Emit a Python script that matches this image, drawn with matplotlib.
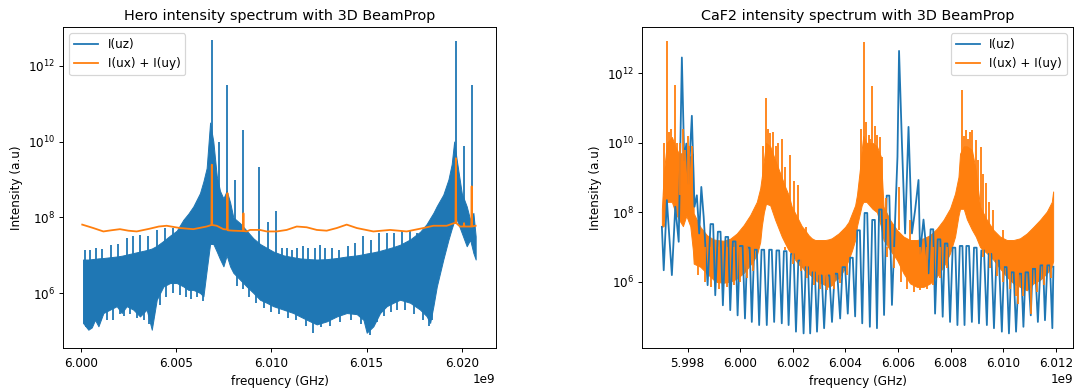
import numpy as np
import matplotlib
matplotlib.use("Agg")
import matplotlib.pyplot as plt
from matplotlib.lines import Line2D
from matplotlib.ticker import NullLocator

# --- Hero: I(uz), dense fringe band (lower / upper edge) ---
hero_band_f = [0.12, 0.40, 0.58, 0.75, 0.93, 1.19, 1.54, 1.89, 2.15, 2.41,
               2.76, 3.11, 3.46, 3.73, 3.99, 4.34, 4.69, 5.04, 5.39, 5.65,
               5.91, 6.26, 6.44, 6.61, 6.79, 6.96, 7.14, 7.31, 7.49, 7.66,
               7.84, 8.01, 8.36, 8.71, 9.06, 9.41, 9.76, 10.11, 10.64, 11.16,
               11.51, 12.04, 12.39, 12.91, 13.44, 13.96, 14.49, 14.84, 15.01, 15.36,
               15.71, 16.06, 16.41, 16.76, 17.29, 17.81, 18.15, 18.34, 18.51, 18.69,
               19.03, 19.30, 19.47, 19.60, 19.74, 20.00, 20.26, 20.44, 20.61, 20.73]
hero_band_hi = [6.89, 6.89, 6.90, 6.91, 6.92, 6.93, 6.95, 6.97, 6.99, 7.02,
                7.06, 7.10, 7.14, 7.18, 7.25, 7.38, 7.52, 7.65, 7.94, 8.10,
                8.29, 8.64, 8.95, 9.30, 10.5, 10.0, 9.1, 8.7, 8.5, 8.7,
                8.4, 8.0, 7.85, 7.65, 7.45, 7.3, 7.2, 7.1, 7.0, 6.95,
                6.92, 6.90, 6.89, 6.90, 6.93, 6.97, 7.0, 7.03, 7.05, 7.08,
                7.12, 7.17, 7.22, 7.28, 7.42, 7.62, 7.82, 7.98, 8.12, 8.30,
                8.60, 9.0, 9.4, 10.0, 9.5, 8.64, 8.29, 7.94, 8.12, 7.5]
hero_band_lo = [5.22, 5.04, 5.10, 5.30, 5.13, 5.48, 5.57, 5.66, 5.48, 5.66,
                5.57, 5.39, 5.57, 5.04, 5.83, 6.18, 6.27, 6.27, 6.18, 6.09,
                6.09, 6.01, 5.92, 6.6, 7.3, 7.3, 7.1, 6.9, 6.71, 7.0,
                6.71, 6.54, 6.36, 6.18, 6.01, 5.83, 5.75, 5.66, 5.57, 5.48,
                5.39, 5.26, 5.18, 5.26, 5.39, 5.48, 5.45, 5.3, 4.96, 5.13,
                5.48, 5.66, 5.75, 5.83, 5.75, 5.57, 5.4, 5.22, 5.66, 6.18,
                6.89, 7.41, 7.7, 7.9, 7.94, 7.59, 7.24, 7.41, 7.06, 6.89]

# Hero: I(uz) spikes and teeth sticking out of the band
hero_spk_f = [0.23, 0.49, 0.80, 1.10, 1.57, 1.97, 2.41, 2.76, 3.11, 3.55,
              3.99, 4.43, 4.86, 6.88, 7.28, 7.70, 8.10, 8.54, 9.38, 9.82,
              10.24, 10.55, 10.81, 11.08, 11.34, 11.69, 11.95, 12.30, 12.56, 12.82,
              13.18, 13.55, 14.05, 14.40, 14.84, 15.22, 15.66, 16.06, 16.45, 16.85,
              17.29, 17.64, 19.69, 20.12, 20.52]
hero_spk_top = [7.15, 7.15, 7.19, 7.17, 7.28, 7.31, 7.45, 7.50, 7.54, 7.50,
                7.68, 7.72, 7.72, 12.68, 10.0, 11.49, 8.99, 10.31, 9.34, 7.89,
                8.16, 7.20, 7.20, 7.15, 7.20, 7.24, 7.20, 7.20, 7.28, 7.20,
                7.20, 7.15, 7.24, 7.32, 7.50, 7.41, 7.59, 7.59, 7.59, 7.63,
                7.63, 7.59, 12.65, 9.87, 11.49]
hero_spk_base = [6.5, 6.5, 6.5, 6.5, 6.5, 6.5, 6.5, 6.5, 6.5, 6.5,
                 6.5, 6.5, 6.5, 8.0, 7.5, 7.5, 7.0, 7.0, 6.5, 6.5,
                 6.5, 6.5, 6.5, 6.5, 6.5, 6.5, 6.5, 6.5, 6.5, 6.5,
                 6.5, 6.5, 6.5, 6.5, 6.5, 6.5, 6.5, 6.5, 6.5, 6.5,
                 6.5, 6.5, 8.5, 7.8, 7.6]

# Hero: I(uz) deep fringe minima below the band
hero_dip_f = [0.28, 0.66, 1.05, 1.37, 1.72, 2.05, 2.28, 2.60, 2.95, 3.30,
              3.60, 3.86, 4.15, 4.50, 4.85, 5.20, 5.50, 5.80, 6.10, 6.40,
              8.20, 8.50, 8.85, 9.20, 9.60, 10.0, 10.4, 10.9, 11.3, 11.8,
              12.2, 12.6, 13.1, 13.6, 14.2, 14.7, 15.2, 15.55, 15.9, 16.3,
              16.6, 17.0, 17.5, 17.95, 18.3, 18.45]
hero_dip = [5.10, 5.20, 5.30, 5.30, 5.30, 5.45, 5.40, 5.45, 5.35, 5.30,
            5.20, 5.40, 5.70, 5.90, 6.00, 5.95, 5.90, 5.85, 5.90, 5.80,
            6.20, 6.10, 5.90, 5.75, 5.60, 5.50, 5.45, 5.35, 5.30, 5.15,
            4.95, 5.10, 5.15, 5.25, 5.30, 5.20, 4.90, 5.25, 5.40, 5.50,
            5.55, 5.55, 5.45, 5.30, 5.15, 5.30]
hero_dip_base = 6.6

# Hero: I(ux) + I(uy)
hero_uxy_f = [0.08, 0.66, 1.19, 1.60, 2.06, 2.50, 2.94, 3.60, 4.10, 4.51,
              5.21, 5.91, 6.61, 6.86, 6.88, 6.90, 7.14, 7.49, 7.68, 7.70,
              7.72, 8.01, 8.52, 8.54, 8.56, 8.71, 8.89, 9.41, 9.76, 10.29,
              10.81, 11.34, 11.86, 12.39, 12.91, 13.44, 13.96, 14.49, 15.36, 16.24,
              17.11, 17.99, 18.51, 19.21, 19.60, 19.67, 19.69, 19.71, 19.91, 20.10,
              20.12, 20.14, 20.26, 20.50, 20.52, 20.54, 20.73]
hero_uxy = [7.81, 7.72, 7.63, 7.66, 7.69, 7.65, 7.63, 7.70, 7.76, 7.78,
            7.72, 7.69, 7.76, 7.80, 9.39, 7.80, 7.78, 7.69, 7.68, 8.64,
            7.66, 7.65, 7.64, 8.11, 7.64, 7.63, 7.67, 7.67, 7.63, 7.63,
            7.67, 7.76, 7.74, 7.67, 7.65, 7.72, 7.81, 7.72, 7.63, 7.67,
            7.63, 7.72, 7.78, 7.78, 7.85, 7.85, 9.56, 7.85, 7.76, 7.76,
            7.85, 7.76, 7.76, 7.76, 8.82, 7.76, 7.78]

# --- CaF2: I(uz), fringe dips and rounded lobe tops ---
caf_uz_f = [-2.98, -2.91, -2.79, -2.60, -2.47, -2.34, -2.22, -2.13,
            -2.05, -1.97, -1.84, -1.74, -1.65, -1.56, -1.48, -1.39,
            -1.24, -1.13, -1.03, -0.95, -0.85, -0.75, -0.66, -0.56, -0.46,
            -0.38, -0.28, -0.18, -0.10, -0.01, 0.09, 0.18, 0.27, 0.36,
            0.44, 0.53, 0.63, 0.72, 0.81, 0.91, 1.01, 1.10, 1.20,
            1.29, 1.38, 1.48, 1.58, 1.66, 1.76, 1.84, 1.93, 2.03,
            2.12, 2.21, 2.31, 2.41, 2.49, 2.58, 2.66, 2.75, 2.84,
            2.92, 3.01, 3.10, 3.19, 3.29, 3.39, 3.49, 3.59, 3.69,
            3.80, 3.89, 3.99, 4.09, 4.18, 4.28, 4.37, 4.45, 4.55,
            4.64, 4.73, 4.83, 4.93, 5.02, 5.12, 5.20, 5.28, 5.38,
            5.47, 5.57, 5.67, 5.77,
            5.98, 6.04, 6.15, 6.27, 6.40, 6.53, 6.65, 6.78, 6.84, 6.97,
            7.16, 7.24, 7.34, 7.41, 7.51, 7.61, 7.70, 7.78, 7.88,
            7.98, 8.08, 8.18, 8.26, 8.35, 8.45, 8.53, 8.60, 8.70,
            8.81, 8.89, 8.99, 9.08, 9.17, 9.27, 9.38, 9.45, 9.55,
            9.65, 9.74, 9.84, 9.95, 10.03, 10.13, 10.22, 10.30, 10.40,
            10.49, 10.59, 10.69, 10.77, 10.85, 10.95, 11.05, 11.12, 11.22,
            11.32, 11.42, 11.52, 11.59, 11.68, 11.78, 11.87, 11.91]
caf_uz = [7.58, 6.33, 8.35, 6.19, 8.16, 7.15, 12.46, 9.50,
          9.98, 8.83, 10.78, 8.16, 8.49, 7.39, 8.73, 7.87,
          5.90, 7.66, 7.66, 5.61, 7.44, 7.44, 5.32, 7.29, 7.29,
          5.18, 7.16, 7.16, 5.03, 7.03, 7.03, 4.94, 6.98, 6.98,
          4.84, 6.92, 6.92, 4.75, 6.92, 6.92, 4.75, 6.92, 6.92,
          4.84, 6.90, 6.90, 4.80, 6.88, 6.88, 4.75, 6.80, 6.80,
          4.56, 6.61, 6.61, 4.51, 6.42, 6.42, 4.51, 6.27, 6.27,
          4.56, 6.18, 6.18, 4.66, 6.18, 6.18, 4.84, 6.23, 6.23,
          4.94, 6.42, 6.42, 5.08, 6.69, 6.69, 5.00, 7.48, 7.48,
          4.80, 7.98, 7.98, 4.70, 7.78, 7.78, 4.66, 8.08, 8.08,
          5.04, 8.48, 8.48, 5.33,
          9.60, 12.65, 9.98, 7.39, 10.46, 7.39, 8.06, 8.93, 6.81, 7.79,
          6.24, 7.51, 7.51, 5.08, 7.22, 7.22, 4.99, 7.10, 7.10,
          4.84, 6.98, 6.98, 4.75, 7.03, 7.03, 4.75, 7.03, 7.03,
          4.84, 6.98, 6.98, 4.80, 6.90, 6.90, 4.75, 6.80, 6.80,
          4.66, 6.61, 6.61, 4.56, 6.42, 6.42, 4.51, 6.27, 6.27,
          4.56, 6.23, 6.23, 4.70, 6.27, 6.27, 5.03, 6.37, 6.37,
          4.84, 6.47, 6.47, 4.89, 6.47, 6.47, 4.66, 6.43]

# CaF2: I(ux) + I(uy), dense band (upper / lower edge)
caf_band_f = [-2.98, -2.91, -2.79, -2.60, -2.47, -2.34, -2.18, -2.05, -1.90, -1.80,
              -1.77, -1.52, -1.27, -1.02, -0.89, -0.63, -0.38, -0.13, 0.13, 0.38,
              0.63, 0.76, 0.82, 0.90, 0.98, 1.14, 1.33, 1.58, 1.71, 1.84,
              1.96, 2.09, 2.22, 2.34, 2.47, 2.60, 2.72, 2.85, 2.98, 3.10,
              3.23, 3.36, 3.48, 3.61, 3.74, 3.86, 3.99, 4.12, 4.25, 4.37,
              4.44, 4.56, 4.62, 4.68, 4.80, 5.03, 5.20, 5.35, 5.45, 5.70,
              5.96, 6.21, 6.46, 6.72, 6.97, 7.22, 7.48, 7.73, 7.98, 8.17,
              8.30, 8.36, 8.50, 8.62, 8.81, 8.96, 9.12, 9.38, 9.63, 9.88,
              10.14, 10.39, 10.64, 10.90, 11.15, 11.40, 11.66, 11.85, 11.90]
caf_band_hi = [8.1, 9.1, 10.0, 10.17, 9.9, 9.7, 9.7, 9.69, 9.6, 9.69,
               7.97, 7.58, 7.34, 7.22, 7.20, 7.18, 7.24, 7.39, 7.63, 7.92,
               8.30, 8.69, 9.02, 9.5, 10.0, 9.9, 9.5, 9.0, 8.73, 8.5,
               8.16, 7.97, 7.78, 7.6, 7.48, 7.34, 7.25, 7.2, 7.2, 7.2,
               7.2, 7.22, 7.25, 7.32, 7.39, 7.48, 7.58, 7.72, 7.97, 8.2,
               8.5, 9.3, 9.8, 10.2, 10.0, 10.0, 9.9, 9.6, 8.16, 7.78,
               7.49, 7.30, 7.20, 7.20, 7.25, 7.34, 7.53, 7.78, 8.11, 8.54,
               9.02, 9.69, 9.9, 9.9, 9.8, 9.2, 8.16, 7.78, 7.49, 7.30,
               7.20, 7.20, 7.25, 7.39, 7.58, 7.78, 8.02, 8.30, 8.6]
caf_band_lo = [7.58, 7.6, 8.3, 8.3, 8.0, 7.8, 7.6, 7.9, 7.6, 6.9,
               6.52, 6.43, 6.24, 6.06, 5.99, 5.97, 6.0, 6.09, 6.25, 6.48,
               6.76, 7.15, 7.6, 8.0, 8.25, 8.2, 7.78, 7.3, 7.1, 6.91,
               6.8, 6.63, 6.5, 6.43, 6.3, 6.24, 6.15, 6.05, 5.98, 5.95,
               5.90, 5.85, 5.9, 6.05, 6.1, 6.24, 6.4, 6.63, 6.9, 7.2,
               7.6, 8.0, 8.2, 8.3, 8.3, 8.1, 8.0, 7.6, 7.2, 6.91,
               6.63, 6.24, 5.95, 5.85, 5.85, 5.95, 6.15, 6.43, 6.82, 7.3,
               7.9, 8.1, 8.1, 7.8, 7.5, 7.3, 7.0, 6.82, 6.63, 6.38,
               6.14, 5.95, 5.85, 5.75, 5.95, 6.05, 6.24, 6.43, 6.6]

# CaF2: I(ux) + I(uy) spikes above the band
caf_spk_f = [-2.90, -2.79, -2.70, -2.62, -2.47, -2.40, -2.30, -2.18, -2.10, -2.00,
             -1.95, -1.85, 0.86, 0.98, 1.05, 1.14, 1.24, 1.35, 1.45, 1.58,
             1.70, 1.90, 2.05, 2.19, 2.50, 4.60, 4.72, 4.80, 4.88, 4.95,
             5.03, 5.12, 5.20, 5.32, 5.40, 5.55, 6.05, 6.45, 8.43, 8.50,
             8.59, 8.66, 8.72, 8.81, 8.96, 9.05, 9.15, 9.25, 9.35, 9.45,
             9.63, 9.98]
caf_spk_top = [10.0, 12.94, 10.3, 10.4, 11.66, 10.0, 10.0, 10.41, 9.8, 10.2,
               9.9, 9.9, 9.9, 11.28, 10.4, 10.27, 10.32, 9.9, 10.0, 10.1,
               9.3, 9.65, 8.9, 8.78, 7.58, 10.4, 12.91, 10.6, 10.22, 10.1,
               11.64, 10.5, 10.22, 10.17, 9.6, 8.4, 8.73, 7.78, 11.51, 10.2,
               10.36, 10.1, 10.3, 10.36, 10.07, 9.5, 9.88, 9.1, 8.83, 8.3,
               8.06, 7.49]
caf_spk_base = [8.5, 9.0, 9.0, 9.0, 9.0, 8.5, 8.5, 8.5, 8.5, 8.5,
                8.5, 8.0, 9.0, 9.0, 9.0, 9.0, 9.0, 8.5, 8.5, 8.5,
                8.0, 8.0, 7.8, 7.5, 7.0, 9.0, 9.0, 9.0, 9.0, 9.0,
                9.0, 9.0, 9.0, 9.0, 8.5, 7.8, 7.5, 7.0, 9.0, 9.0,
                9.0, 9.0, 9.0, 9.0, 8.5, 8.3, 8.0, 7.8, 7.5, 7.5,
                7.0, 7.0]

# CaF2: I(ux) + I(uy) minima below the band
caf_dip_f = [-1.60, -1.35, -1.10, -0.80, -0.50, -0.25, 0.00, 0.25, 0.50,
             1.70, 2.00, 2.30, 2.55, 2.80, 3.05, 3.30, 3.55, 3.80, 4.05,
             5.60, 5.85, 6.10, 6.35, 6.60, 6.85, 7.10, 7.35, 7.60, 7.85,
             9.25, 9.50, 9.75, 10.00, 10.25, 10.50, 10.58, 10.75, 11.05, 11.30,
             11.55, 11.80]
caf_dip = [6.20, 6.00, 5.85, 5.80, 5.85, 5.90, 6.00, 6.10, 6.30,
           6.90, 6.50, 6.30, 6.10, 5.90, 5.80, 5.75, 5.80, 5.95, 6.20,
           6.70, 6.40, 6.00, 5.80, 5.70, 5.75, 5.80, 5.90, 6.10, 6.40,
           6.70, 6.40, 6.15, 6.00, 5.80, 5.60, 5.37, 5.60, 5.08, 5.70,
           5.90, 6.10]
caf_dip_base = 7.0


def hz(mhz):
    return 6e9 + np.asarray(mhz) * 1e6


def lin(lg):
    return 10.0 ** np.asarray(lg)


DPI = 86.4
fig = plt.figure(figsize=(1075 / DPI, 389 / DPI), dpi=DPI)
ax1 = fig.add_axes([0.0589, 0.1046, 0.4022, 0.8252])
ax2 = fig.add_axes([0.5976, 0.1046, 0.4004, 0.8252])

# Hero
ax1.fill_between(hz(hero_band_f), lin(hero_band_lo), lin(hero_band_hi),
                 color="C0", lw=0.8, edgecolor="C0")
ax1.vlines(hz(hero_dip_f), lin(hero_dip), 10 ** hero_dip_base, color="C0", lw=1.5)
ax1.vlines(hz(hero_spk_f), lin(hero_spk_base), lin(hero_spk_top), color="C0", lw=1.5)
ax1.plot(hz(hero_uxy_f), lin(hero_uxy), color="C1", lw=1.5)
ax1.set_yscale("log")
ax1.set_xlim(hz(-0.913), hz(21.78))
ax1.set_ylim(10 ** 4.55, 10 ** 13.01)
ax1.set_xticks(hz([0, 5, 10, 15, 20]))
ax1.set_title("Hero intensity spectrum with 3D BeamProp")
ax1.set_xlabel("frequency (GHz)")
ax1.set_ylabel("Intensity (a.u)")

# CaF2
ax2.plot(hz(caf_uz_f), lin(caf_uz), color="C0", lw=1.5)
ax2.fill_between(hz(caf_band_f), lin(caf_band_lo), lin(caf_band_hi),
                 color="C1", lw=0.8, edgecolor="C1")
ax2.vlines(hz(caf_dip_f), lin(caf_dip), 10 ** caf_dip_base, color="C1", lw=1.5)
ax2.vlines(hz(caf_spk_f), lin(caf_spk_base), lin(caf_spk_top), color="C1", lw=1.5)
ax2.set_yscale("log")
ax2.set_xlim(hz(-3.72), hz(12.65))
ax2.set_ylim(10 ** 4.08, 10 ** 13.33)
ax2.set_xticks(hz([-2, 0, 2, 4, 6, 8, 10, 12]))
ax2.set_title("CaF2 intensity spectrum with 3D BeamProp")
ax2.set_xlabel("frequency (GHz)")
ax2.set_ylabel("Intensity (a.u)")

for ax in (ax1, ax2):
    ax.set_yticks([1e6, 1e8, 1e10, 1e12])
    ax.yaxis.set_minor_locator(NullLocator())

handles = [Line2D([], [], color="C0", lw=1.5, label="I(uz)"),
           Line2D([], [], color="C1", lw=1.5, label="I(ux) + I(uy)")]
ax1.legend(handles=handles, loc="upper left")
ax2.legend(handles=handles, loc="upper right")

fig.savefig("out.png", dpi=DPI)
